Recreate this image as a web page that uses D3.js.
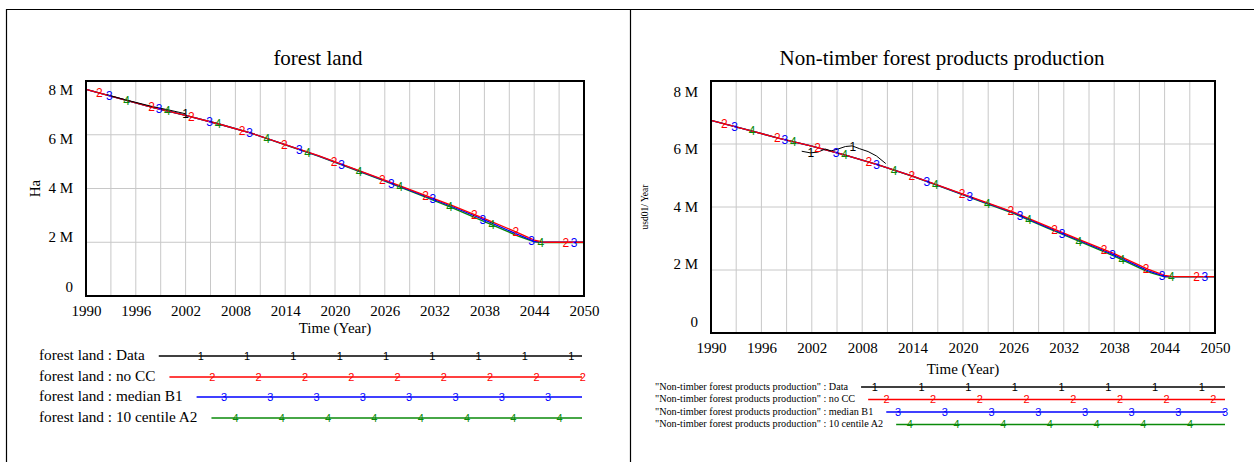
<!DOCTYPE html>
<html>
<head>
<meta charset="utf-8">
<script src="https://cdn.jsdelivr.net/npm/d3@7"></script>
<style>
  html, body { margin: 0; padding: 0; background: #fff; }
  svg { display: block; }
  text { font-family: "Liberation Serif", "Times New Roman", serif; fill: #000; }
  .mark { font-family: "Liberation Sans", Arial, sans-serif; }
</style>
</head>
<body>
<div id="chart"></div>
<script>
// model output years (shared by the three scenario runs)
const years = [1990, 1994, 1998, 2002, 2006, 2010, 2014, 2018, 2022, 2026, 2030, 2034, 2038, 2042, 2044, 2045, 2046, 2050];

// forest land (Ha)
const forestNoCC     = [7.69, 7.35, 7.02, 6.72, 6.40, 6.05, 5.63, 5.22, 4.77, 4.31, 3.85, 3.38, 2.88, 2.36, 2.08, 2.01, 2.00, 2.00];
const forestMedianB1 = [7.69, 7.35, 7.02, 6.72, 6.40, 6.05, 5.63, 5.21, 4.76, 4.29, 3.82, 3.34, 2.83, 2.29, 2.03, 2.00, 2.00, 2.00];
const forest10A2     = [7.69, 7.35, 7.02, 6.72, 6.40, 6.05, 5.62, 5.20, 4.74, 4.27, 3.79, 3.30, 2.77, 2.24, 2.01, 1.99, 1.99, 1.99];
const forestDataYears = [1992.5, 1995, 1998, 2000, 2002];
const forestData      = [7.49, 7.28, 7.05, 6.92, 6.78];

// Non-timber forest products production (usd01/Year)
const ntfpNoCC     = [6.75, 6.47, 6.19, 5.93, 5.65, 5.33, 4.98, 4.60, 4.22, 3.84, 3.39, 2.95, 2.52, 2.03, 1.83, 1.79, 1.79, 1.79];
const ntfpMedianB1 = [6.75, 6.47, 6.19, 5.93, 5.65, 5.33, 4.98, 4.59, 4.20, 3.82, 3.36, 2.92, 2.48, 1.98, 1.80, 1.79, 1.79, 1.79];
const ntfp10A2     = [6.75, 6.47, 6.19, 5.93, 5.65, 5.33, 4.97, 4.58, 4.19, 3.80, 3.34, 2.89, 2.44, 1.94, 1.78, 1.78, 1.78, 1.78];
const ntfpDataYears = [2000.8, 2001.8, 2002.7, 2003.6, 2004.3, 2005.0, 2006.0, 2006.8, 2007.7, 2008.7, 2009.7, 2010.8];
const ntfpData      = [5.77, 5.72, 5.74, 5.84, 5.78, 5.83, 5.92, 5.94, 5.85, 5.76, 5.62, 5.38];

// years where the numbered run markers sit on the curves
const markYearsNoCC     = [1991.6, 1997.9, 2002.7, 2008.8, 2013.9, 2019.9, 2025.7, 2030.9, 2036.8, 2041.8, 2047.8];
const markYearsMedianB1 = [1992.8, 1998.8, 2004.9, 2009.7, 2015.7, 2020.8, 2026.8, 2031.8, 2037.8, 2043.7, 2048.8];
const markYears10A2     = [1994.9, 1999.8, 2005.9, 2011.8, 2016.7, 2022.9, 2027.8, 2033.8, 2038.9, 2044.8];
const forestDataMarks = [2002];
const ntfpDataMarks   = [2001.9, 2006.9];

// axes
const xTickYears  = [1990, 1996, 2002, 2008, 2014, 2020, 2026, 2032, 2038, 2044, 2050];
const yTickValues = [0, 2, 4, 6, 8];
const yTickLabels = ["0", "2 M", "4 M", "6 M", "8 M"];

const runNames  = ["Data", "no CC", "median B1", "10 centile A2"];
const runColors = ["#000000", "#ff0000", "#0000ff", "#0a8a0a"];

const width = 1254;
const height = 462;

const svg = d3.select("#chart")
  .append("svg")
  .attr("width", width)
  .attr("height", height)
  .attr("viewBox", [0, 0, width, height]);

// panel frames
svg.append("path")
  .attr("d", `M6.5,${height} V9.5 H${width}`)
  .attr("fill", "none").attr("stroke", "#000").attr("stroke-width", 1.2);
svg.append("line")
  .attr("x1", 630.5).attr("x2", 630.5).attr("y1", 9).attr("y2", height)
  .attr("stroke", "#000").attr("stroke-width", 1.2);

function drawPanel(cfg) {
  const x = d3.scaleLinear().domain([1990, 2050]).range([cfg.x0, cfg.x1]);
  const y = d3.scaleLinear().domain([0, 8]).range([cfg.y1, cfg.y0]);
  const g = svg.append("g");

  // title
  g.append("text")
    .attr("x", cfg.titleX).attr("y", 65)
    .attr("text-anchor", "middle")
    .attr("font-size", 21)
    .text(cfg.title);

  // grid
  g.append("g").selectAll("line")
    .data(d3.range(1993, 2050, 3))
    .join("line")
    .attr("x1", d => x(d)).attr("x2", d => x(d))
    .attr("y1", cfg.y0).attr("y2", cfg.y1)
    .attr("stroke", "#c8c8c8").attr("stroke-width", 1);
  g.append("g").selectAll("line")
    .data([2, 4, 6])
    .join("line")
    .attr("x1", cfg.x0).attr("x2", cfg.x1)
    .attr("y1", d => y(d)).attr("y2", d => y(d))
    .attr("stroke", "#c8c8c8").attr("stroke-width", 1);

  // series
  const line = d3.line().x(d => x(d[0])).y(d => y(d[1]));
  const runs = [
    { vals: cfg.series[3], color: runColors[3], w: 1.3 },
    { vals: cfg.series[2], color: runColors[2], w: 1.3 },
    { vals: cfg.series[1], color: runColors[1], w: 1.3 }
  ];
  runs.forEach(r => {
    g.append("path")
      .datum(d3.zip(years, r.vals))
      .attr("fill", "none")
      .attr("stroke", r.color)
      .attr("stroke-width", r.w)
      .attr("d", line);
  });
  g.append("path")
    .datum(d3.zip(cfg.dataYears, cfg.series[0]))
    .attr("fill", "none")
    .attr("stroke", "#000")
    .attr("stroke-width", 1)
    .attr("d", line);

  // run markers
  const markSets = [
    { yrs: cfg.dataMarks, xs: cfg.dataYears, vals: cfg.series[0], label: "1" },
    { yrs: markYearsNoCC, xs: years, vals: cfg.series[1], label: "2" },
    { yrs: markYearsMedianB1, xs: years, vals: cfg.series[2], label: "3" },
    { yrs: markYears10A2, xs: years, vals: cfg.series[3], label: "4" }
  ];
  markSets.forEach((m, i) => {
    const interp = d3.scaleLinear().domain(m.xs).range(m.vals);
    g.append("g").selectAll("text")
      .data(m.yrs)
      .join("text")
      .attr("class", "mark")
      .attr("x", d => x(d))
      .attr("y", d => y(interp(d)))
      .attr("dy", "0.36em")
      .attr("text-anchor", "middle")
      .attr("font-size", 12)
      .style("fill", runColors[i])
      .text(m.label);
  });

  // frame
  g.append("rect")
    .attr("x", cfg.x0).attr("y", cfg.y0)
    .attr("width", cfg.x1 - cfg.x0).attr("height", cfg.y1 - cfg.y0)
    .attr("fill", "none").attr("stroke", "#000").attr("stroke-width", 2);

  // x axis
  const xAxis = g.append("g")
    .attr("transform", `translate(0,${cfg.y1})`)
    .call(d3.axisBottom(x).tickValues(xTickYears).tickFormat(d3.format("d")).tickSize(0).tickPadding(cfg.xPad));
  xAxis.select(".domain").remove();
  xAxis.selectAll("text").attr("font-size", 15).attr("font-family", "Liberation Serif");

  // y axis (Vensim pulls labels slightly toward the middle)
  const mid = (cfg.y0 + cfg.y1) / 2;
  const yAxis = g.append("g")
    .attr("transform", `translate(${cfg.x0},0)`)
    .call(d3.axisLeft(y).tickValues(yTickValues).tickFormat((d, i) => yTickLabels[i]).tickSize(0).tickPadding(13));
  yAxis.select(".domain").remove();
  yAxis.selectAll(".tick")
    .attr("transform", d => `translate(0,${mid + (y(d) - mid) * 0.915})`);
  yAxis.selectAll("text").attr("font-size", 15).attr("font-family", "Liberation Serif");

  // axis titles
  g.append("text")
    .attr("x", (cfg.x0 + cfg.x1) / 2).attr("y", cfg.xTitleY)
    .attr("text-anchor", "middle")
    .attr("font-size", 15)
    .text("Time (Year)");
  g.append("text")
    .attr("transform", `translate(${cfg.yTitleX},${mid}) rotate(-90)`)
    .attr("dy", "0.35em")
    .attr("text-anchor", "middle")
    .attr("font-size", cfg.yTitleSize)
    .text(cfg.yTitle);

  // legend
  const lg = cfg.legend;
  runNames.forEach((name, i) => {
    const ry = lg.rows[i];
    const t = g.append("text")
      .attr("x", lg.x).attr("y", ry)
      .attr("dy", "0.35em")
      .attr("font-size", lg.size)
      .text(`${cfg.legendName} : ${name}`);
    const start = lg.x + t.node().getComputedTextLength() + lg.gap;
    g.append("line")
      .attr("x1", start).attr("x2", lg.end)
      .attr("y1", ry + 1).attr("y2", ry + 1)
      .attr("stroke", runColors[i]).attr("stroke-width", 1.3);
    const xs = d3.range(lg.phase + i * lg.step / 4, lg.end + 4, lg.step).filter(v => v >= start);
    g.append("g").selectAll("text")
      .data(xs)
      .join("text")
      .attr("class", "mark")
      .attr("x", d => d).attr("y", ry + 1)
      .attr("dy", "0.36em")
      .attr("text-anchor", "middle")
      .attr("font-size", 11)
      .style("fill", runColors[i])
      .text(String(i + 1));
  });
}

drawPanel({
  title: "forest land",
  titleX: 318,
  x0: 86, x1: 584, y0: 81, y1: 296,
  xPad: 9, xTitleY: 333,
  yTitle: "Ha", yTitleX: 35, yTitleSize: 15,
  series: [forestData, forestNoCC, forestMedianB1, forest10A2],
  dataYears: forestDataYears,
  dataMarks: forestDataMarks,
  legendName: "forest land",
  legend: { x: 39, rows: [355, 376, 396, 417], size: 15.3, gap: 14, end: 582, phase: 200.8, step: 46.3 }
});

drawPanel({
  title: "Non-timber forest products production",
  titleX: 942,
  x0: 711, x1: 1215, y0: 81, y1: 333,
  xPad: 9, xTitleY: 374,
  yTitle: "usd01/ Year", yTitleX: 645, yTitleSize: 9.5,
  series: [ntfpData, ntfpNoCC, ntfpMedianB1, ntfp10A2],
  dataYears: ntfpDataYears,
  dataMarks: ntfpDataMarks,
  legendName: "\"Non-timber forest products production\"",
  legend: { x: 655, rows: [386, 398.5, 411, 423.5], size: 10.2, gap: 13, end: 1225, phase: 874.8, step: 46.7 }
});
</script>
</body>
</html>
